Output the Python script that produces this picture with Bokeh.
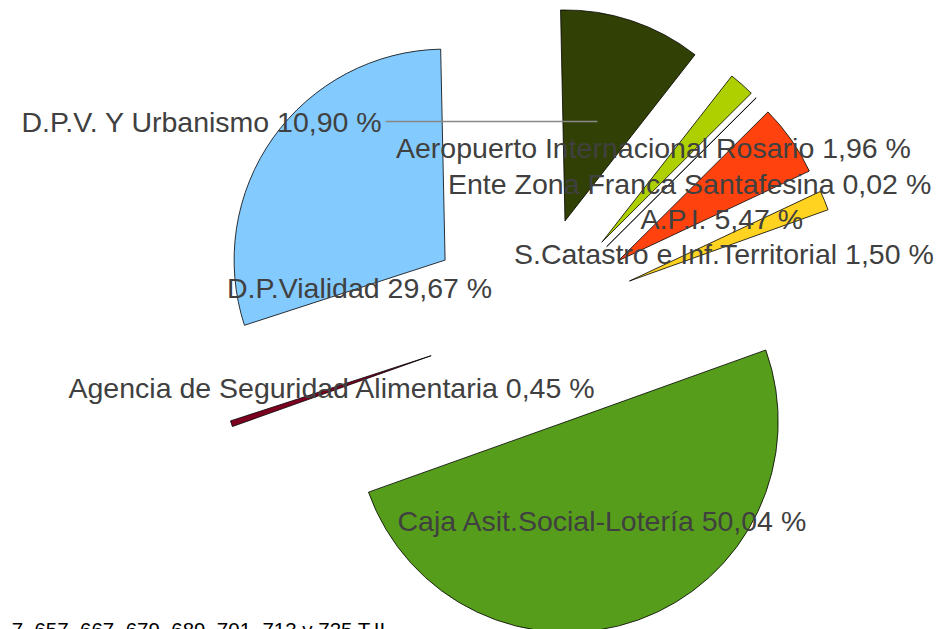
import numpy as np
from bokeh.plotting import figure
from bokeh.models import ColumnDataSource, Range1d
from bokeh.embed import file_html
from bokeh.resources import INLINE
from bokeh.core.properties import value

# ---- data -------------------------------------------------------------
names = [
    "D.P.V. Y Urbanismo",
    "Aeropuerto Internacional Rosario",
    "Ente Zona Franca Santafesina",
    "A.P.I.",
    "S.Catastro e Inf.Territorial",
    "Caja Asit.Social-Lotería",
    "Agencia de Seguridad Alimentaria",
    "D.P.Vialidad",
]
percents = [10.90, 1.96, 0.02, 5.47, 1.50, 50.04, 0.45, 29.67]
colors = ["#314004", "#aecf00", "#004586", "#ff420e",
          "#ffd320", "#579d1c", "#7e0021", "#83caff"]

# label anchors (left x, text top y) in page pixels, top-left origin
label_x = [21.0, 395.5, 447.5, 640.0, 513.5, 397.0, 68.0, 226.5]
label_top = [105.2, 131.2, 167.2, 202.2, 237.2, 504.2, 371.2, 271.2]

footer_text = "7, 657, 667, 679, 689, 701, 713 y 725 T.II"

# ---- layout constants --------------------------------------------------
W, H = 945, 629
cx, cy = 531.0, H - 321.0   # pie centre
R = 211.0                   # radius
EXPLODE = 106.0             # explosion offset
START = 91.2                # start angle (deg), clockwise order

vals = np.array(percents, dtype=float)
total = vals.sum()
cum_after = np.cumsum(vals)
cum_before = cum_after - vals
a_start = np.deg2rad(START - 360.0 * cum_after / total)
a_end = np.deg2rad(START - 360.0 * cum_before / total)
mid = (a_start + a_end) / 2.0
xs = cx + EXPLODE * np.cos(mid)
ys = cy + EXPLODE * np.sin(mid)

src = ColumnDataSource(dict(x=xs, y=ys, a0=a_start, a1=a_end, color=colors))

p = figure(width=W, height=H, output_backend="svg", toolbar_location=None,
           x_range=Range1d(0, W), y_range=Range1d(0, H),
           x_axis_location=None, y_axis_location=None, min_border=0,
           background_fill_color="white", border_fill_color="white",
           outline_line_color=None)
p.grid.grid_line_color = None

p.wedge(x="x", y="y", radius=R, start_angle="a0", end_angle="a1",
        direction="anticlock", fill_color="color", line_color="black",
        line_width=0.8, source=src)

# leader line for D.P.V. label
p.line(x=[385, 597], y=[H - 121, H - 121], line_color="#888888", line_width=1.3)

def fmt(v):
    return f"{v:.2f}".replace(".", ",")

labels = [f"{n} {fmt(v)} %" for n, v in zip(names, percents)]
lsrc = ColumnDataSource(dict(x=label_x, y=[H - v for v in label_top], text=labels))
p.text(x="x", y="y", text="text", source=lsrc, text_font=value("Liberation Sans"),
       text_font_size="28.5px", text_color="#404040", text_align="left",
       text_baseline="top")

p.text(x=[385], y=[H - 617], text=[footer_text], text_font=value("Liberation Sans"),
       text_font_size="20.5px", text_color="black", text_align="right",
       text_baseline="top")

open("out.html", "w").write(file_html(p, INLINE))
